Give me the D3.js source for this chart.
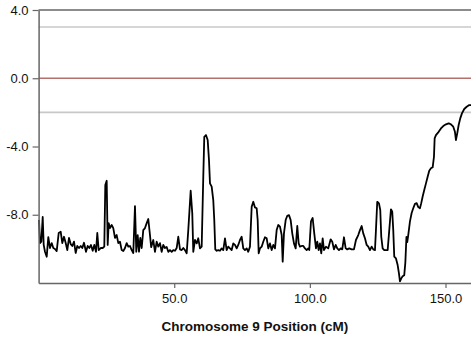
<!DOCTYPE html>
<html>
<head>
<meta charset="utf-8">
<script src="https://cdn.jsdelivr.net/npm/d3@7/dist/d3.min.js"></script>
<style>
html,body{margin:0;padding:0;background:#fff;}
svg{display:block;}
</style>
</head>
<body>
<svg id="chart" width="471" height="338"></svg>
<script>
// ---- DATA ----
const xTicks = [50, 100, 150];
const yTicks = [4, 0, -4, -8];
const thresholdLines = [3.0, -2.0];
const zeroLine = [0];
const xTitle = "Chromosome 9 Position (cM)";

const positionCM = [
0.15,0.52,1.0,1.51,1.88,2.36,2.99,3.58,4.2,4.83,5.42,6.04,6.67,7.41,8.15,8.74,9.36,9.99,10.58,11.21,
11.83,12.42,13.05,13.67,14.26,14.89,15.52,16.11,16.73,17.47,18.1,18.69,19.31,19.94,20.53,21.16,21.64,22.15,22.89,23.63,
24.22,24.59,25.1,25.47,25.84,26.32,26.94,27.53,28.16,28.79,29.38,30.0,30.63,31.22,31.85,32.47,33.06,33.69,34.32,34.91,
35.53,36.01,36.53,37.01,37.49,38.0,38.59,39.22,39.85,40.43,41.0,41.5,42.28,42.9,43.53,44.12,44.75,45.37,45.96,46.59,
47.22,47.81,48.43,49.06,49.65,50.28,50.9,51.49,52.12,52.75,53.34,53.96,54.59,55.18,56.06,56.65,57.02,57.65,58.28,58.86,
59.49,60.12,60.71,61.08,61.7,62.33,62.81,63.18,63.8,64.39,64.76,65.13,65.65,66.24,66.86,67.49,68.08,68.71,69.33,69.92,
70.55,71.17,71.76,72.39,73.02,73.61,74.24,74.86,75.45,76.08,76.71,77.29,77.92,78.55,79.14,79.76,80.39,80.76,81.13,81.61,
82.23,82.82,83.45,84.08,84.67,85.29,85.92,86.51,87.14,87.76,88.35,88.98,89.61,89.98,90.45,91.08,91.67,92.3,92.92,93.51,
94.14,94.77,95.36,95.87,96.35,96.98,97.57,98.19,98.82,99.41,99.78,100.41,101.03,101.62,102.25,102.73,103.24,103.72,104.2,104.72,
105.2,105.94,106.78,107.67,108.26,108.88,109.51,110.1,110.73,111.35,111.94,112.57,113.2,113.79,114.52,115.41,116.25,116.99,117.84,118.47,
119.09,119.68,120.31,120.94,121.53,122.15,122.78,123.37,124.0,124.36,124.84,125.47,125.95,126.32,126.83,127.42,128.05,128.68,129.27,129.89,
130.37,130.74,131.11,131.74,132.36,132.84,133.21,133.69,134.2,134.79,135.2,135.6,135.9,136.27,136.9,137.52,138.11,138.74,139.37,139.96,
140.58,141.06,141.58,142.17,142.8,143.42,144.01,144.64,145.27,145.75,146.0,146.48,147.48,148.32,149.17,150.17,151.16,152.01,152.86,153.48,
153.85,154.33,154.85,155.44,156.06,156.91,157.8,158.76,159.4
];
const lodScore = [
-8.31,-9.66,-9.58,-8.13,-9.77,-10.17,-10.46,-9.31,-9.95,-9.66,-9.95,-10.01,-10.13,-9.07,-9.0,-9.66,-9.29,-9.66,-10.07,-9.36,
-9.72,-9.83,-9.58,-10.24,-9.83,-9.95,-9.83,-9.95,-9.64,-10.17,-9.83,-9.95,-9.77,-10.11,-9.77,-10.17,-9.07,-10.07,-9.95,-9.95,
-9.87,-6.26,-6.01,-9.77,-8.49,-8.78,-8.60,-8.78,-9.36,-9.19,-9.66,-9.58,-10.07,-10.13,-9.95,-9.66,-9.87,-9.83,-10.07,-10.24,
-7.49,-10.17,-9.19,-10.17,-9.36,-9.95,-8.90,-8.78,-8.49,-8.25,-9.1,-9.9,-9.48,-10.17,-9.58,-9.87,-9.66,-10.17,-9.77,-9.95,
-9.89,-10.17,-10.07,-10.17,-10.07,-10.11,-9.95,-9.29,-10.03,-10.07,-9.95,-10.07,-10.26,-8.90,-6.59,-7.92,-10.17,-9.48,-9.68,-9.38,
-9.97,-9.87,-5.77,-3.43,-3.33,-3.62,-4.79,-6.16,-6.35,-7.14,-8.31,-10.03,-10.11,-10.07,-10.11,-9.97,-10.07,-9.38,-10.07,-9.87,
-9.97,-10.07,-9.68,-9.77,-9.97,-9.77,-9.48,-9.29,-9.97,-10.07,-9.97,-10.17,-9.87,-7.53,-7.24,-7.57,-7.62,-8.31,-10.26,-9.97,
-9.87,-9.58,-9.32,-9.38,-9.97,-9.68,-10.07,-9.77,-9.97,-8.90,-8.60,-8.70,-9.19,-10.75,-9.09,-8.31,-8.06,-8.02,-8.31,-9.09,
-9.68,-9.97,-8.66,-9.68,-9.87,-9.83,-9.83,-9.97,-10.07,-9.97,-10.07,-8.39,-8.19,-9.09,-9.97,-9.58,-10.07,-9.68,-10.26,-9.38,
-10.07,-9.87,-9.97,-9.44,-9.58,-10.03,-9.77,-9.97,-10.07,-9.97,-10.03,-9.32,-9.97,-10.03,-9.97,-10.03,-10.03,-9.48,-9.19,-8.90,
-8.66,-9.09,-9.38,-9.77,-9.87,-10.07,-9.87,-10.03,-10.07,-8.90,-7.24,-7.33,-7.72,-9.29,-9.97,-10.07,-10.07,-10.07,-8.90,-7.68,
-7.82,-8.90,-10.46,-10.56,-10.95,-11.44,-11.9,-11.73,-11.6,-11.54,-10.8,-9.3,-9.6,-9.19,-8.39,-7.9,-7.62,-7.36,-7.32,-7.55,
-7.62,-7.32,-6.93,-6.55,-6.16,-5.77,-5.42,-5.28,-5.22,-4.6,-3.52,-3.33,-3.14,-2.94,-2.8,-2.7,-2.64,-2.7,-2.84,-3.14,
-3.62,-3.23,-2.74,-2.35,-2.06,-1.8,-1.67,-1.57,-1.57
];

// ---- CHART ----
(function () {
const svg = d3.select("#chart");
const mLeft = 38.6, mRight = 471, mTop = 10, mBottom = 283;

const x = d3.scaleLinear().domain([0, 159.4]).range([mLeft, mRight]);
const y = d3.scaleLinear().domain([-12, 4]).range([mBottom, mTop]);

// reference lines
svg.selectAll("line.thr").data(thresholdLines).enter().append("line")
  .attr("class", "thr")
  .attr("x1", mLeft).attr("x2", mRight)
  .attr("y1", d => y(d)).attr("y2", d => y(d))
  .attr("stroke", "#c8c8c8").attr("stroke-width", 1.6);

svg.selectAll("line.zero").data(zeroLine).enter().append("line")
  .attr("class", "zero")
  .attr("x1", mLeft).attr("x2", mRight)
  .attr("y1", d => y(d)).attr("y2", d => y(d))
  .attr("stroke", "#b5706c").attr("stroke-width", 1.6);

// top frame
svg.append("line")
  .attr("x1", mLeft).attr("x2", mRight)
  .attr("y1", y(4)).attr("y2", y(4))
  .attr("stroke", "#666").attr("stroke-width", 1.5);

// data line
const pts = positionCM.map((d, i) => [d, lodScore[i]]);
svg.append("path")
  .datum(pts)
  .attr("fill", "none")
  .attr("stroke", "#000")
  .attr("stroke-width", 1.8)
  .attr("stroke-linejoin", "round")
  .attr("d", d3.line().x(d => x(d[0])).y(d => y(d[1])));

// axes
const fmt = d => d.toFixed(1);
const xAxis = svg.append("g")
  .attr("transform", `translate(0,${mBottom})`)
  .call(d3.axisBottom(x).tickValues(xTicks).tickFormat(fmt).tickSize(5).tickSizeOuter(0).tickPadding(6));
const yAxis = svg.append("g")
  .attr("transform", `translate(${mLeft},0)`)
  .call(d3.axisLeft(y).tickValues(yTicks).tickFormat(fmt).tickSize(6).tickSizeOuter(0).tickPadding(4));

[xAxis, yAxis].forEach(g => {
  g.select(".domain").attr("stroke", "#666").attr("stroke-width", 1.5);
  g.selectAll(".tick line").attr("stroke", "#666").attr("stroke-width", 1.2);
  g.selectAll(".tick text")
    .attr("fill", "#111")
    .style("font-family", "'Liberation Sans', Arial, sans-serif")
    .style("font-size", "13px");
});

svg.append("text")
  .attr("x", (mLeft + mRight) / 2)
  .attr("y", 331)
  .attr("text-anchor", "middle")
  .style("font-family", "'Liberation Sans', Arial, sans-serif")
  .style("font-size", "13.5px")
  .style("font-weight", "bold")
  .attr("fill", "#111")
  .text(xTitle);
})();
</script>
</body>
</html>
